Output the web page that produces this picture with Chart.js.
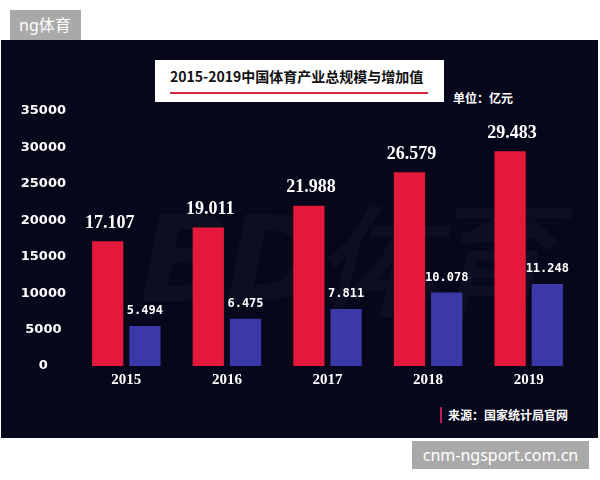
<!DOCTYPE html>
<html>
<head>
<meta charset="utf-8">
<script src="https://cdn.jsdelivr.net/npm/chart.js@4"></script>
<style>
  body { margin: 0; background: #fff; width: 600px; height: 480px; position: relative; overflow: hidden; font-family: "Noto Sans CJK SC", sans-serif; }
  .tag { position: absolute; background: #a9a9a9; color: #fff; font-family: "Noto Sans", "Noto Sans CJK SC", sans-serif; }
  #panel { position: absolute; left: 1px; top: 40px; width: 597px; height: 398px; background: #06071a; }
  #logo { position: absolute; left: 140px; top: 180px; font: italic 900 120px "DejaVu Sans", sans-serif; color: rgba(255,255,255,0.03); letter-spacing: -6px; white-space: nowrap; }
  #titleBox { position: absolute; left: 155px; top: 60px; width: 289px; height: 42px; background: #fff; }
  #titleBox span { position: absolute; left: 15px; top: 6px; font: bold 14px "Noto Sans CJK SC", sans-serif; color: #111; white-space: nowrap; }
  #titleBox i { position: absolute; left: 15px; top: 32px; width: 258px; height: 2px; background: #d7263f; }
  #unit { position: absolute; left: 453px; top: 89px; font: bold 12px "Noto Sans CJK SC", sans-serif; color: #fff; }
  #source { position: absolute; left: 440px; top: 407px; font: bold 12px "Noto Sans CJK SC", sans-serif; color: #fff; padding-left: 6px; border-left: 2px solid #c4185c; line-height: 16px; }
  canvas { position: absolute; left: 0; top: 0; }
</style>
</head>
<body>
<div class="tag" style="left:10px;top:10px;width:71px;height:30px;line-height:30px;font-size:16px;text-indent:9px;">ng体育</div>
<div id="panel"></div>
<div id="logo">BD体育</div>
<div id="titleBox"><span>2015-2019中国体育产业总规模与增加值</span><i></i></div>
<div id="unit">单位：亿元</div>
<div id="source">来源：国家统计局官网</div>
<div class="tag" style="left:412px;top:441px;width:177px;height:28px;line-height:28px;font-size:16px;text-align:center;">cnm-ngsport.com.cn</div>
<canvas id="chart" width="600" height="480"></canvas>
<script>
// 单位：亿元
const years = ['2015', '2016', '2017', '2018', '2019'];
const totalScale = [17107, 19011, 21988, 26579, 29483];   // 总规模
const addedValue = [5494, 6475, 7811, 10078, 11248];     // 增加值
const yTicks = [0, 5000, 10000, 15000, 20000, 25000, 30000, 35000];

// value labels above bars, e.g. 17107 -> "17.107"
const valueLabels = {
  id: 'valueLabels',
  afterDatasetsDraw(chart) {
    const ctx = chart.ctx;
    ctx.save();
    ctx.fillStyle = '#fff';
    ctx.textAlign = 'center';
    ctx.textBaseline = 'bottom';
    chart.data.datasets.forEach((ds, i) => {
      const meta = chart.getDatasetMeta(i);
      ctx.font = i === 0 ? 'bold 18px "Liberation Serif", serif' : 'bold 12px "DejaVu Sans Mono", monospace';
      meta.data.forEach((bar, j) => {
        const txt = (ds.data[j] / 1000).toFixed(3);
        ctx.fillText(txt, bar.x + (i === 0 ? 2 : 0), bar.y - 9);
      });
    });
    ctx.restore();
  }
};

new Chart(document.getElementById('chart'), {
  type: 'bar',
  data: {
    labels: years,
    datasets: [
      { label: '总规模', data: totalScale, backgroundColor: '#e3183b' },
      { label: '增加值', data: addedValue, backgroundColor: '#3b39a8' }
    ]
  },
  options: {
    responsive: false,
    animation: false,
    categoryPercentage: 0.74,
    barPercentage: 0.84,
    layout: { padding: { left: 18, top: 111, right: 21, bottom: 86 } },
    plugins: { legend: { display: false }, tooltip: { enabled: false } },
    scales: {
      x: {
        grid: { display: false, drawTicks: false },
        border: { display: false },
        ticks: { color: '#fff', padding: 5, font: { family: '"Liberation Serif", serif', weight: 'bold', size: 15 } }
      },
      y: {
        min: 0,
        max: 35000,
        afterBuildTicks: axis => { axis.ticks = yTicks.map(v => ({ value: v })); },
        afterFit: axis => { axis.width = 58; },
        grid: { display: false, drawTicks: false },
        border: { display: false },
        ticks: {
          color: '#fff', padding: 10, crossAlign: 'center',
          font: { family: '"DejaVu Sans", sans-serif', weight: 'bold', size: 13 },
          callback: v => String(v)
        }
      }
    }
  },
  plugins: [valueLabels]
});
</script>
</body>
</html>
